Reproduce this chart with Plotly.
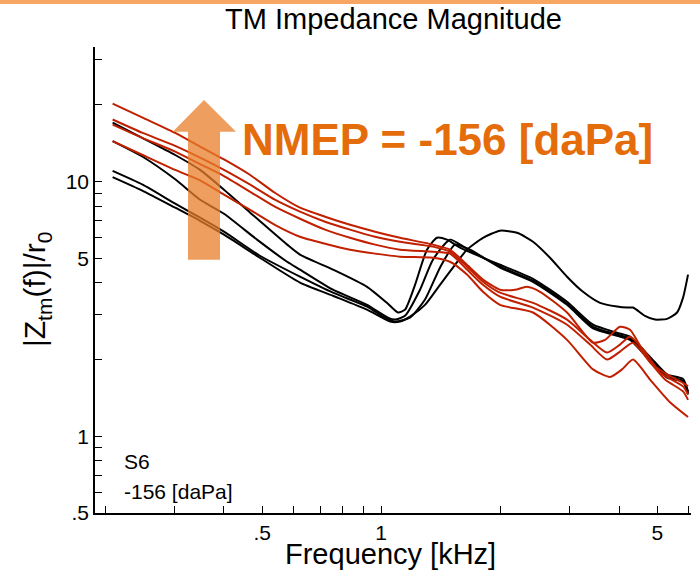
import math
import plotly.graph_objects as go

# ---------------- data (frequency in kHz, normalised impedance) ----------------
red_f_left = [0.209, 0.249, 0.301, 0.348, 0.400, 0.466, 0.538, 0.623, 0.721, 0.834, 0.965, 1.116, 1.352]

r1_f = red_f_left + [1.493, 1.649, 1.810, 1.999, 2.182, 2.339, 2.524, 2.954, 3.438, 3.687, 4.023, 4.265, 4.792, 5.291, 5.809, 5.981]
r1_z = [20.2, 17.8, 15.5, 13.7, 12.2, 10.6, 9.03, 7.89, 7.27, 6.76, 6.35, 6.01, 5.65,
        5.40, 4.71, 4.12, 3.76, 3.76, 3.86, 3.69, 3.06, 2.33, 2.39, 2.69, 2.62, 1.95, 1.75, 1.62, 1.57]

r2_f = red_f_left + [1.493, 1.649, 1.810, 1.999, 2.423, 2.954, 3.379, 3.730, 4.023, 4.265, 4.653, 5.079, 5.809, 5.981]
r2_z = [17.5, 15.5, 13.8, 12.4, 11.1, 9.71, 8.48, 7.61, 6.95, 6.47, 6.07, 5.80, 5.55,
        5.30, 4.63, 4.04, 3.66, 3.34, 2.87, 2.39, 2.13, 2.29, 2.46, 2.15, 1.78, 1.57, 1.46]

r3_f = red_f_left + [1.493, 1.649, 1.810, 1.999, 2.423, 2.954, 3.379, 3.730, 4.023, 4.340, 4.736, 5.230, 5.809, 5.981]
r3_z = [16.7, 14.8, 13.1, 11.7, 10.5, 9.11, 7.96, 7.14, 6.47, 6.01, 5.65, 5.40, 5.30,
        5.21, 4.51, 3.93, 3.53, 3.20, 2.74, 2.29, 2.00, 2.15, 2.33, 2.00, 1.67, 1.50, 1.39]

r4_f = red_f_left + [1.493, 1.649, 1.810, 1.999, 2.423, 2.954, 3.438, 3.796, 4.070, 4.340, 4.792, 5.384, 5.981]
r4_z = [14.4, 12.7, 11.1, 10.1, 8.87, 7.74, 6.76, 6.07, 5.70, 5.40, 5.21, 5.07, 5.02,
        4.84, 4.31, 3.69, 3.28, 3.06, 2.39, 1.83, 1.71, 1.83, 2.00, 1.67, 1.36, 1.19]

b1_f = [0.209, 0.249, 0.301, 0.348, 0.400, 0.466, 0.578, 0.623, 0.755, 0.921, 1.034, 1.103, 1.149, 1.218,
        1.306, 1.384, 1.467, 1.583, 1.810, 1.999, 2.423, 2.954, 3.438, 3.954, 4.265, 4.792, 5.291, 5.809, 5.981]
b1_z = [17.0, 14.8, 12.7, 11.1, 9.28, 7.54, 5.65, 5.16, 4.51, 3.86, 3.34, 3.06, 3.14, 3.93,
        5.40, 6.01, 5.91, 5.50, 5.02, 4.71, 4.15, 3.37, 2.74, 2.55, 2.46, 2.05, 1.75, 1.68, 1.50]

b2_f = [0.209, 0.249, 0.301, 0.348, 0.400, 0.485, 0.578, 0.623, 0.755, 0.921, 1.040, 1.084, 1.149, 1.254,
        1.352, 1.493, 1.630, 1.810, 1.999, 2.423, 2.954, 3.438, 3.954, 4.265, 4.792, 5.291, 5.809, 5.981]
b2_z = [14.4, 12.5, 10.2, 8.48, 7.47, 5.91, 4.84, 4.51, 3.76, 3.28, 2.92, 2.87, 2.97, 3.76,
        4.93, 5.91, 5.50, 5.02, 4.63, 4.08, 3.31, 2.69, 2.51, 2.42, 2.02, 1.71, 1.65, 1.48]

b3_f = [0.209, 0.249, 0.301, 0.348, 0.400, 0.493, 0.623, 0.755, 0.921, 1.022, 1.084, 1.183, 1.291,
        1.409, 1.538, 1.678, 1.999, 2.423, 2.954, 3.438, 3.954, 4.265, 4.792, 5.291, 5.809, 5.981]
b3_z = [11.0, 9.71, 8.18, 7.21, 6.35, 5.11, 4.23, 3.66, 3.23, 2.92, 2.82, 2.92, 3.44,
        4.59, 5.65, 5.40, 4.59, 4.04, 3.28, 2.65, 2.48, 2.39, 1.98, 1.70, 1.64, 1.46]

b4_f = [0.209, 0.249, 0.301, 0.348, 0.400, 0.493, 0.623, 0.755, 0.921, 1.053, 1.116, 1.183, 1.291,
        1.409, 1.538, 1.649, 1.810, 1.999, 2.208, 2.423, 2.675, 2.954, 3.243, 3.581, 3.954, 4.191,
        4.340, 4.653, 4.934, 5.291, 5.610, 5.809, 5.981]
b4_z = [10.4, 9.19, 7.89, 7.01, 6.18, 5.02, 4.01, 3.56, 3.14, 2.82, 2.82, 2.95, 3.28,
        3.93, 4.71, 5.40, 6.01, 6.41, 6.29, 5.80, 5.02, 4.23, 3.69, 3.34, 3.23, 3.20,
        3.20, 2.97, 2.87, 2.89, 3.06, 3.50, 4.31]

x_major = [0.5, 1, 5]
x_major_text = [".5", "1", "5"]
x_minor = [0.2, 0.3, 0.4, 0.6, 0.7, 0.8, 0.9, 2, 3, 4, 6]
y_major = [0.5, 1, 5, 10]
y_major_text = [".5", "1", "5", "10"]
y_minor = [0.6, 0.7, 0.8, 0.9, 2, 3, 4, 6, 7, 8, 9, 20, 30]

x_range = [0.1886, 6.085]
y_range = [0.5, 33.7]

# ---------------- styles ----------------
RED = "#C02000"
BLACK = "#000000"
FONT = "Liberation Sans, Arial, sans-serif"

fig = go.Figure()
for f, z in [(b1_f, b1_z), (b2_f, b2_z), (b3_f, b3_z), (b4_f, b4_z)]:
    fig.add_trace(go.Scatter(x=f, y=z, mode="lines",
                             line=dict(color=BLACK, width=2, shape="spline", smoothing=0.6),
                             hoverinfo="skip"))
for f, z in [(r1_f, r1_z), (r2_f, r2_z), (r3_f, r3_z), (r4_f, r4_z)]:
    fig.add_trace(go.Scatter(x=f, y=z, mode="lines",
                             line=dict(color=RED, width=2, shape="spline", smoothing=0.6),
                             hoverinfo="skip"))

axis_common = dict(showline=True, linecolor="black", linewidth=1.5, mirror=False, showgrid=False,
                   zeroline=False, ticks="inside", ticklen=7, tickwidth=1.2, tickcolor="black",
                   tickfont=dict(family=FONT, size=21, color="black"))

fig.update_xaxes(type="log", range=[math.log10(x_range[0]), math.log10(x_range[1])],
                 tickmode="array", tickvals=x_major, ticktext=x_major_text,
                 minor=dict(tickvals=x_minor, ticks="inside", ticklen=7, tickwidth=1.2, tickcolor="black"),
                 **axis_common)
fig.update_yaxes(type="log", range=[math.log10(y_range[0]), math.log10(y_range[1])],
                 tickmode="array", tickvals=y_major, ticktext=y_major_text,
                 minor=dict(tickvals=y_minor, ticks="inside", ticklen=7, tickwidth=1.2, tickcolor="black"),
                 **axis_common)

ann = [
    dict(text="TM Impedance Magnitude", x=0.50, y=1.06, xref="paper", yref="paper",
         showarrow=False, font=dict(family=FONT, size=29, color="black"), xanchor="center", yanchor="middle"),
    dict(text="Frequency [kHz]", x=0.495, y=-0.088, xref="paper", yref="paper",
         showarrow=False, font=dict(family=FONT, size=29, color="black"), xanchor="center", yanchor="middle"),
    dict(text="|Z<sub>tm</sub>(f)|/r<sub>0</sub>", x=-0.097, y=0.481, xref="paper", yref="paper",
         showarrow=False, textangle=-90, font=dict(family=FONT, size=30, color="black"),
         xanchor="center", yanchor="middle"),
    dict(text="S6", x=0.045, y=0.110, xref="paper", yref="paper", showarrow=False,
         font=dict(family=FONT, size=21, color="black"), xanchor="left", yanchor="middle"),
    dict(text="-156 [daPa]", x=0.045, y=0.046, xref="paper", yref="paper", showarrow=False,
         font=dict(family=FONT, size=21, color="black"), xanchor="left", yanchor="middle"),
    dict(text="<b>NMEP = -156 [daPa]</b>", x=0.2433, y=0.8006, xref="paper", yref="paper", showarrow=False,
         font=dict(family=FONT, size=44, color="#E46C0A"), xanchor="left", yanchor="middle"),
]

shapes = [
    dict(type="rect", xref="paper", yref="paper", x0=-0.2, x1=1.1, y0=1.0922, y1=1.12,
         fillcolor="rgb(247,166,100)", line=dict(width=0), layer="above"),
    dict(type="path", xref="paper", yref="paper",
         path="M 0.156,0.5434 L 0.2097,0.5434 L 0.2097,0.8184 L 0.2366,0.8184 L 0.1829,0.8864 "
              "L 0.1304,0.8184 L 0.156,0.8184 Z",
         fillcolor="rgba(232,126,40,0.75)", line=dict(width=0), layer="above"),
]

fig.update_layout(width=700, height=580, margin=dict(l=95, r=9, t=47, b=67, pad=0),
                  paper_bgcolor="white", plot_bgcolor="white", showlegend=False,
                  annotations=ann, shapes=shapes, hovermode=False)

fig.write_html("out.html")
